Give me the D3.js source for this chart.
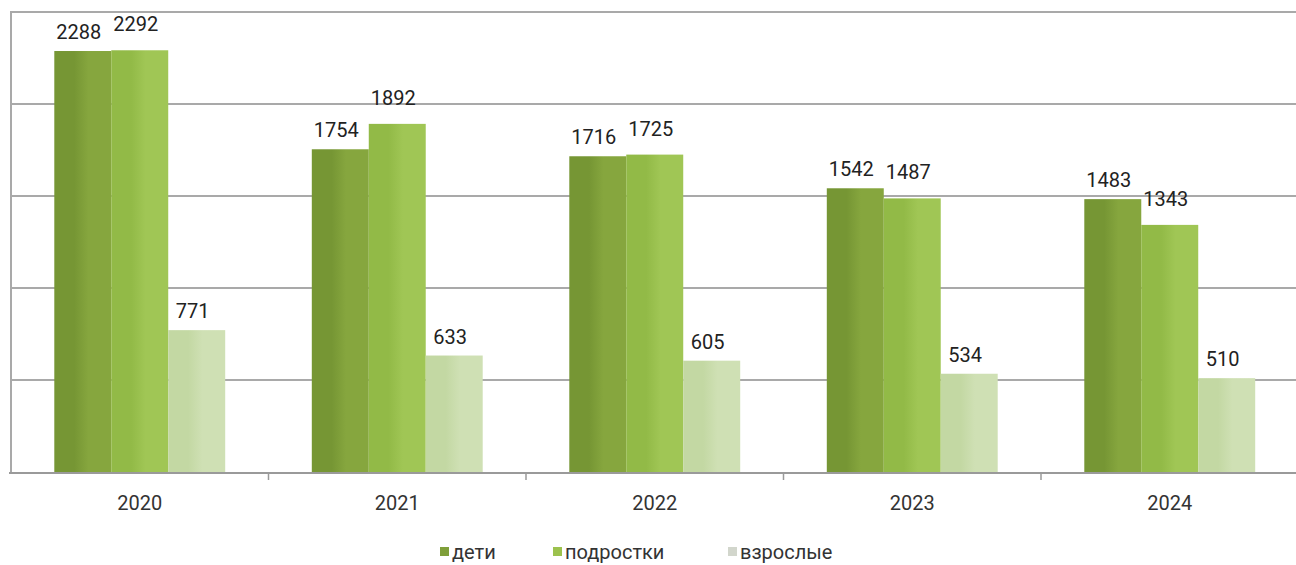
<!DOCTYPE html>
<html>
<head>
<meta charset="utf-8">
<script src="https://cdn.jsdelivr.net/npm/d3@7"></script>
<style>
  body { margin: 0; background: #fff; }
  svg { display: block; font-family: Roboto, "Noto Sans", sans-serif; }
</style>
</head>
<body>
<div id="chart"></div>
<script>
const width = 1296;
const height = 565;

// data
const years = ["2020", "2021", "2022", "2023", "2024"];
const seriesNames = ["дети", "подростки", "взрослые"];
const children = [2288, 1754, 1716, 1542, 1483];
const teens = [2292, 1892, 1725, 1487, 1343];
const adults = [771, 633, 605, 534, 510];
const yTicks = [0, 500, 1000, 1500, 2000, 2500];

const seriesValues = [children, teens, adults];
const colors = [
  ["#769634", "#86a63e"],
  ["#92ba47", "#a0c655"],
  ["#c3d8a3", "#cfe0b4"]
];
const legendColors = ["#7f9f3a", "#9cc24e", "#d2d6cc"];
const labelLift = [12, 19, 12];

const plotLeft = 11, plotRight = 1298.5, plotTop = 12, plotBottom = 472;

const svg = d3.select("#chart")
    .append("svg")
    .attr("width", width)
    .attr("height", height);

const defs = svg.append("defs");
colors.forEach((c, i) => {
  const g = defs.append("linearGradient")
      .attr("id", "grad" + i)
      .attr("x1", "0%").attr("x2", "100%").attr("y1", "0%").attr("y2", "0%");
  g.append("stop").attr("offset", "0%").attr("stop-color", c[0]);
  g.append("stop").attr("offset", "35%").attr("stop-color", c[0]);
  g.append("stop").attr("offset", "60%").attr("stop-color", c[1]);
  g.append("stop").attr("offset", "100%").attr("stop-color", c[1]);
});

const x0 = d3.scaleBand(years, [plotLeft, plotRight]).paddingInner(0).paddingOuter(0);
const x1 = d3.scaleBand(seriesNames, [0, x0.bandwidth()]).paddingOuter(0.76).paddingInner(0);
const y = d3.scaleLinear([0, 2500], [plotBottom, plotTop]);

// gridlines
svg.append("g")
  .selectAll("line")
  .data(yTicks.slice(1))
  .join("line")
    .attr("x1", plotLeft)
    .attr("x2", width)
    .attr("y1", d => y(d))
    .attr("y2", d => y(d))
    .attr("stroke", "#a9a9a9")
    .attr("stroke-width", 2);

// left border
svg.append("line")
    .attr("x1", plotLeft).attr("x2", plotLeft)
    .attr("y1", y(2500) - 1).attr("y2", plotBottom + 1)
    .attr("stroke", "#a9a9a9")
    .attr("stroke-width", 2);

// bars
const rows = years.map((yr, i) => ({ year: yr, vals: seriesValues.map(s => s[i]) }));

const groups = svg.append("g")
  .selectAll("g")
  .data(rows)
  .join("g")
    .attr("transform", d => `translate(${x0(d.year)},0)`);

groups.selectAll("rect")
  .data(d => d.vals.map((v, i) => ({ v, i })))
  .join("rect")
    .attr("x", d => x1(seriesNames[d.i]))
    .attr("y", d => y(d.v))
    .attr("width", x1.bandwidth())
    .attr("height", d => plotBottom - y(d.v))
    .attr("fill", d => `url(#grad${d.i})`);

groups.selectAll("text")
  .data(d => d.vals.map((v, i) => ({ v, i })))
  .join("text")
    .attr("x", d => x1(seriesNames[d.i]) + x1.bandwidth() / 2 - 4)
    .attr("y", d => y(d.v) - labelLift[d.i])
    .attr("text-anchor", "middle")
    .attr("font-size", 20)
    .attr("fill", "#222")
    .text(d => d.v);

// x axis
const xAxis = svg.append("g")
    .attr("transform", `translate(0,${plotBottom})`)
    .call(d3.axisBottom(x0).tickSize(0).tickPadding(24));
xAxis.select(".domain").remove();
xAxis.selectAll("text")
    .attr("font-size", 20)
    .attr("font-family", "Roboto, sans-serif")
    .attr("fill", "#333");

svg.append("line")
    .attr("x1", 9).attr("x2", width)
    .attr("y1", plotBottom + 1).attr("y2", plotBottom + 1)
    .attr("stroke", "#9a9a9a")
    .attr("stroke-width", 2);

svg.append("g")
  .selectAll("line")
  .data(years.slice(1))
  .join("line")
    .attr("x1", d => x0(d)).attr("x2", d => x0(d))
    .attr("y1", plotBottom).attr("y2", plotBottom + 8)
    .attr("stroke", "#9a9a9a")
    .attr("stroke-width", 1.5);

// legend
const legendX = [440, 553, 728];
const legend = svg.append("g")
  .selectAll("g")
  .data(seriesNames)
  .join("g")
    .attr("transform", (d, i) => `translate(${legendX[i]},552)`);
legend.append("rect")
    .attr("x", 0).attr("y", -5)
    .attr("width", 9).attr("height", 9)
    .attr("fill", (d, i) => legendColors[i]);
legend.append("text")
    .attr("x", 12)
    .attr("y", 7)
    .attr("font-size", 20)
    .attr("fill", "#333")
    .text(d => d);
</script>
</body>
</html>
